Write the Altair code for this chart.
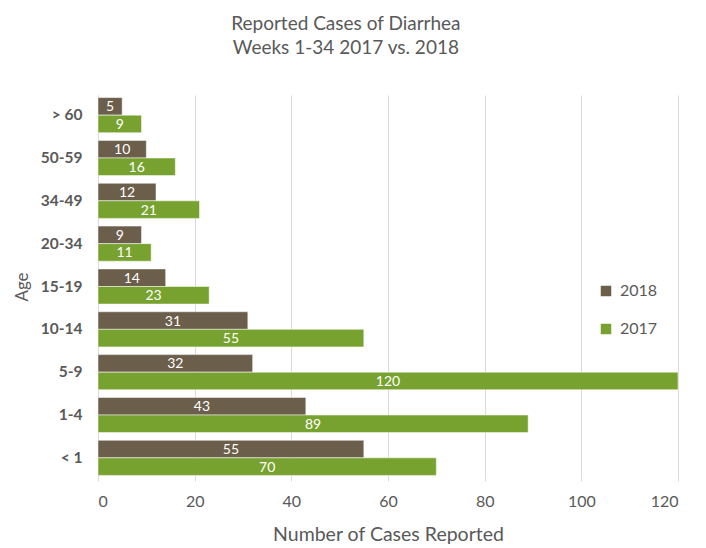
import altair as alt
import pandas as pd

ages = ["> 60", "50-59", "34-49", "20-34", "15-19", "10-14", "5-9", "1-4", "< 1"]
cases_2018 = [5, 10, 12, 9, 14, 31, 32, 43, 55]
cases_2017 = [9, 16, 21, 11, 23, 55, 120, 89, 70]
years = ["2018", "2017"]
colors = ["#6B5E4B", "#78A22F"]
x_ticks = [0, 20, 40, 60, 80, 100, 120]

rows = []
for a, v18, v17 in zip(ages, cases_2018, cases_2017):
    rows.append({"Age": a, "Year": "2018", "Cases": v18})
    rows.append({"Age": a, "Year": "2017", "Cases": v17})
df = pd.DataFrame(rows)

FONT = "Lato"
GREY = "#595959"

y_enc = alt.Y("Age:N", sort=ages,
              scale=alt.Scale(paddingInner=0.18, paddingOuter=0.06),
              axis=alt.Axis(title="Age", labelFontWeight="bold", labelFontSize=15.5,
                            labelColor=GREY, titleColor=GREY, titleFontSize=17,
                            titleFontWeight="normal", labelPadding=16, titlePadding=9,
                            ticks=False, domain=True, domainColor="#d9d9d9"))
x_scale = alt.Scale(domain=[0, 120], nice=False)

bars = alt.Chart(df).mark_bar(stroke="white", strokeWidth=0.5).encode(
    x=alt.X("Cases:Q", scale=x_scale,
            axis=alt.Axis(title="Number of Cases Reported", values=x_ticks,
                          labelFontSize=16, labelColor=GREY, titleColor=GREY,
                          titleFontSize=19.5, titleFontWeight="normal",
                          labelPadding=12, titlePadding=16, domain=False,
                          tickColor="#d9d9d9", tickSize=3,
                          gridColor="#d9d9d9")),
    y=y_enc,
    yOffset=alt.YOffset("Year:N", sort=years),
    color=alt.Color("Year:N", sort=years,
                    scale=alt.Scale(domain=years, range=colors),
                    legend=alt.Legend(title=None, orient="none", legendX=500, legendY=188,
                                      symbolType="square", symbolSize=110,
                                      symbolStrokeWidth=0, labelFontSize=16,
                                      labelColor=GREY, rowPadding=22, labelOffset=6)),
)

labels = alt.Chart(df).transform_calculate(mid="datum.Cases / 2").mark_text(
    color="white", fontSize=14, font=FONT, baseline="middle", dy=1
).encode(
    x=alt.X("mid:Q", scale=x_scale),
    y=alt.Y("Age:N", sort=ages),
    yOffset=alt.YOffset("Year:N", sort=years),
    text="Cases:Q",
)

chart = alt.layer(bars, labels).properties(
    width=580, height=383,
    autosize=alt.AutoSizeParams(type="none"),
    padding={"left": 90, "top": 87, "right": 20, "bottom": 70},
    title=alt.TitleParams(["Reported Cases of Diarrhea", "Weeks 1-34 2017 vs. 2018"],
                          fontSize=19, fontWeight="normal", color=GREY,
                          lineHeight=24, offset=37, anchor="middle", frame="bounds"),
).configure(font=FONT).configure_view(stroke=None)

chart.save("out.html", embed_options={"renderer": "svg", "actions": False})
